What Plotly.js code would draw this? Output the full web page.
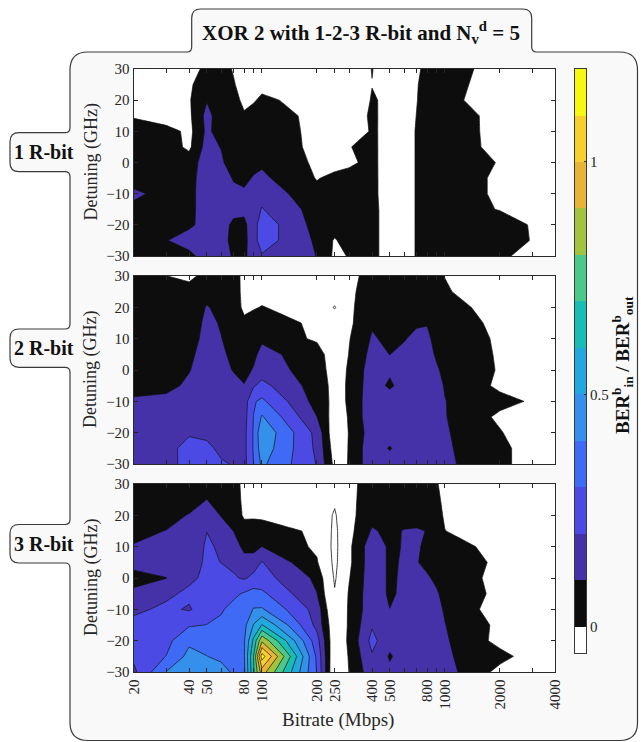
<!DOCTYPE html>
<html><head><meta charset="utf-8">
<script src="https://cdn.plot.ly/plotly-3.0.1.min.js"></script>
<style>html,body{margin:0;padding:0;background:#fff}#chart{width:641px;height:742px}</style>
</head><body><div id="chart"></div>
<script>
// ---------------- data ----------------
const bitrate = [20,30,40,50,60,70,80,90,100,200,250,300,400,500,600,700,800,900,1000,2000,3000,4000];
const bitrateLabels = ['20','','40','50','','','80','','100','200','250','','400','500','','','800','','1000','2000','','4000'];
const detuning = [-30,-25,-20,-15,-10,-5,0,5,10,15,20,25,30];
const detuningTicks = [-30,-20,-10,0,10,20,30];
const panelNames = ['1 R-bit','2 R-bit','3 R-bit'];
const levelStart = 0, levelEnd = 1.2, levelStep = 0.1;
const colorbarEdges = [-0.056,0,0.1,0.2,0.3,0.4,0.5,0.6,0.7,0.8,0.9,1.0,1.1,1.2];
const colorbarTicks = [0,0.5,1];

// BER_in/BER_out, one array per bitrate (values for detuning -30 ... +30 GHz)
const ratio1R = [
 [0.05,0.05,0.05,0.06,0.13,0.03,0.05,0.05,0.05,-0.01,-0.08,-0.08,-0.08],
 [0.05,0.095,0.05,0.05,0.05,0.05,0.05,0.05,0.05,-0.08,-0.08,-0.08,-0.08],
 [0.07,0.15,0.08,0.06,0.06,0.06,0.05,-0.02,-0.03,-0.02,-0.01,-0.02,-0.05],
 [0.15,0.17,0.14,0.17,0.17,0.16,0.15,0.14,0.12,0.13,0.095,0.07,0.03],
 [0.14,0.15,0.14,0.15,0.15,0.16,0.12,0.095,0.06,0.05,0.05,0.05,0.05],
 [0.09,0.06,0.08,0.13,0.13,0.09,0.03,0.05,0.05,0.04,0.03,0.01,-0.01],
 [0.08,0.07,0.08,0.12,0.12,0.07,0.05,0.05,0.04,0.01,-0.02,-0.05,-0.08],
 [0.15,0.16,0.15,0.16,0.14,0.11,0.06,0.05,0.05,0.04,-0.01,-0.05,-0.08],
 [0.19,0.25,0.26,0.205,0.17,0.12,0.085,0.05,0.05,0.05,0.02,-0.03,-0.08],
 [0.098,0.084,0.064,0.059,0.025,-0.005,-0.016,-0.018,-0.021,-0.026,-0.043,-0.08,-0.08],
 [-0.02,-0.01,0.05,0.05,0.05,0.02,-0.03,-0.08,-0.08,-0.08,-0.08,-0.08,-0.08],
 [0.005,0.05,0.05,0.05,0.05,0.04,-0.02,-0.005,-0.05,-0.05,-0.08,-0.08,-0.08],
 [0.05,0.05,0.05,0.05,0.04,0.04,0.03,0.04,0.008,0.013,0.007,-0.002,0.003],
 [-0.08,-0.08,-0.08,-0.08,-0.08,-0.08,-0.062,-0.083,-0.017,-0.027,-0.015,-0.05,-0.05],
 [-0.07,-0.07,-0.07,-0.07,-0.07,-0.07,-0.07,-0.07,-0.07,-0.07,-0.07,-0.07,-0.07],
 [0.01,0.01,0.01,0.01,0.01,0.01,0.01,0.01,0.01,0.002,-0.005,-0.01,-0.02],
 [0.05,0.05,0.05,0.05,0.05,0.05,0.05,0.05,0.05,0.05,0.05,0.05,0.03],
 [0.05,0.05,0.05,0.05,0.05,0.05,0.05,0.05,0.05,0.05,0.05,0.05,0.05],
 [0.05,0.05,0.05,0.05,0.05,0.05,0.05,0.05,0.05,0.05,0.05,0.05,0.05],
 [0.05,0.05,0.05,-0.005,-0.015,-0.015,-0.0045,-0.026,-0.029,-0.03,-0.095,-0.065,-0.045],
 [-0.095,-0.0046,-0.0083,-0.08,-0.08,-0.08,-0.08,-0.08,-0.08,-0.08,-0.08,-0.08,-0.08],
 [-0.08,-0.08,-0.08,-0.08,-0.08,-0.08,-0.08,-0.08,-0.08,-0.08,-0.08,-0.08,-0.08]
];
const ratio2R = [
 [0.17,0.17,0.15,0.14,0.12,0.05,0.05,0.05,0.05,0.05,0.05,0.05,0.05],
 [0.17,0.17,0.16,0.15,0.13,0.07,0.05,0.05,0.05,0.05,0.05,0.05,0.002],
 [0.23,0.23,0.19,0.16,0.15,0.12,0.095,0.08,0.06,0.05,0.05,0.05,-0.03],
 [0.24,0.22,0.18,0.17,0.16,0.15,0.15,0.14,0.13,0.12,0.105,0.07,0.04],
 [0.21,0.18,0.16,0.16,0.16,0.15,0.13,0.115,0.102,0.093,0.08,0.05,0.05],
 [0.195,0.17,0.16,0.16,0.15,0.13,0.095,0.08,0.07,0.05,0.05,0.05,0.05],
 [0.17,0.17,0.17,0.16,0.15,0.103,0.08,0.05,0.05,0.02,-0.02,-0.03,-0.033],
 [0.298,0.31,0.31,0.302,0.29,0.19,0.105,0.085,0.06,0.05,-0.01,-0.03,-0.05],
 [0.42,0.46,0.48,0.41,0.32,0.23,0.15,0.12,0.09,0.05,0.005,-0.04,-0.06],
 [0.195,0.18,0.17,0.101,0.062,0.052,0.053,0.064,-0.02,-0.02,-0.06,-0.06,-0.06],
 [-0.03,-0.052,-0.077,-0.05,-0.03,-0.03,-0.049,-0.09,-0.06,-0.06,-0.16,-0.06,-0.06],
 [0.004,0.005,0.005,0.007,0.0095,0.01,0.0115,0.004,-0.005,-0.02,-0.02,-0.03,-0.05],
 [0.17,0.17,0.15,0.17,0.17,0.16,0.15,0.13,0.11,0.09,0.067,0.07,0.064],
 [0.16,0.09,0.16,0.17,0.17,0.08,0.12,0.099,0.08,0.06,0.05,0.05,0.05],
 [0.16,0.16,0.16,0.16,0.16,0.15,0.14,0.12,0.095,0.07,0.05,0.05,0.05],
 [0.16,0.16,0.16,0.16,0.16,0.15,0.15,0.14,0.12,0.09,0.06,0.05,0.05],
 [0.15,0.15,0.15,0.15,0.15,0.15,0.14,0.13,0.12,0.095,0.05,0.05,0.05],
 [0.15,0.15,0.15,0.14,0.13,0.12,0.11,0.09,0.07,0.05,0.05,0.05,0.05],
 [0.116,0.111,0.11,0.105,0.102,0.096,0.082,0.06,0.05,0.05,0.05,0.012,-0.002],
 [0.04,0.04,0.008,-0.02,0.03,-0.02,-0.008,-0.0088,-0.011,-0.022,-0.054,-0.08,-0.08],
 [-0.07,-0.07,-0.072,-0.08,-0.0103,-0.08,-0.08,-0.08,-0.08,-0.08,-0.08,-0.08,-0.08],
 [-0.08,-0.08,-0.08,-0.08,-0.08,-0.08,-0.08,-0.08,-0.08,-0.08,-0.08,-0.08,-0.08]
];
const ratio3R = [
 [0.18,0.22,0.25,0.23,0.18,0.12,0.07,0.13,0.105,0.08,0.06,0.05,0.05],
 [0.402,0.302,0.27,0.25,0.22,0.18,0.098,0.15,0.14,0.102,0.07,0.05,0.05],
 [0.45,0.43,0.38,0.29,0.19,0.22,0.18,0.17,0.15,0.13,0.105,0.06,-0.003],
 [0.46,0.402,0.36,0.302,0.25,0.23,0.22,0.21,0.21,0.199,0.15,0.101,0.07],
 [0.45,0.37,0.35,0.32,0.29,0.25,0.22,0.199,0.19,0.14,0.095,0.07,0.05],
 [0.38,0.37,0.36,0.35,0.33,0.28,0.21,0.18,0.14,0.099,0.07,0.05,0.05],
 [0.38,0.39,0.39,0.37,0.34,0.31,0.19,0.13,0.08,0.05,-0.017,-0.0235,-0.033],
 [0.68,0.7,0.62,0.505,0.405,0.34,0.22,0.16,0.06,0.05,-0.015,-0.04,-0.06],
 [0.95,1.15,0.88,0.605,0.41,0.32,0.24,0.205,0.101,0.05,-0.02,-0.06,-0.08],
 [0.295,0.28,0.239,0.17,0.16,0.102,0.08,0.01,-0.019,-0.019,-0.06,-0.08,-0.08],
 [-0.11,-0.1,-0.086,-0.08,-0.12,-0.14,-0.165,-0.18,-0.185,-0.18,-0.165,-0.13,-0.06],
 [0.003,0.009,0.018,0.012,0.016,0.012,-0.005,-0.02,-0.02,-0.03,-0.03,-0.03,-0.05],
 [0.16,0.19,0.23,0.19,0.16,0.16,0.16,0.16,0.16,0.11,0.07,0.06,0.085],
 [0.12,0.09,0.13,0.13,0.101,0.085,0.085,0.085,0.085,0.08,0.06,0.05,0.05],
 [0.14,0.14,0.14,0.14,0.13,0.12,0.115,0.11,0.105,0.105,0.06,0.05,0.05],
 [0.15,0.15,0.15,0.15,0.14,0.13,0.12,0.105,0.11,0.11,0.06,0.05,0.05],
 [0.14,0.14,0.13,0.13,0.13,0.12,0.11,0.08,0.085,0.0975,0.06,0.05,0.05],
 [0.15,0.14,0.14,0.13,0.12,0.11,0.084,0.06,0.05,0.05,0.04,0.03,0.01],
 [0.14,0.113,0.112,0.1025,0.093,0.0755,0.05,0.05,0.05,0.002,-0.014,-0.032,-0.04],
 [-0.03,0.03,-0.03,-0.023,-0.055,-0.025,-0.024,-0.015,-0.039,-0.08,-0.08,-0.08,-0.08],
 [-0.08,-0.041,-0.08,-0.08,-0.08,-0.08,-0.08,-0.08,-0.08,-0.08,-0.08,-0.08,-0.08],
 [-0.08,-0.08,-0.08,-0.08,-0.08,-0.08,-0.08,-0.08,-0.08,-0.08,-0.08,-0.08,-0.08]
];

// ---------------- styles ----------------
const bandColors = ['#ffffff','#0d0d0d','#4532a9','#4c4ae5','#3f6af5','#3590ec','#22a8de','#19bdb6','#4cc988','#a1c33f','#e7b437','#f9cf30','#f8f711'];
const W = 641, H = 742;
const px = x => x / W;
const py = y => 1 - y / H;
const FONT = 'Liberation Serif';
const INK = '#262626';
const panelTop = [69, 276, 484], panelBottom = [256, 464, 672];
const xDomain = [px(134), px(555)];

// contour colorscale: fill of band above level j uses position (j+1)/nLev
const nLev = Math.round((levelEnd - levelStart) / levelStep) + 1; // 13
const contourScale = [];
for (let m = 0; m <= nLev; m++) contourScale.push([m / nLev, bandColors[Math.min(m, bandColors.length - 1)]]);

const traces = [];
const layout = {
  width: W, height: H,
  margin: {l:0, r:0, t:0, b:0, autoexpand:false},
  paper_bgcolor: '#ffffff', plot_bgcolor: 'rgba(0,0,0,0)',
  showlegend: false,
  font: {family: FONT, color: INK},
  annotations: [], shapes: []
};

[ratio1R, ratio2R, ratio3R].forEach((cols, i) => {
  const z = detuning.map((_, r) => cols.map(col => col[r]));
  const sfx = i === 0 ? '' : String(i + 1);
  const common = {type:'contour', x: bitrate, y: detuning, z: z, xaxis:'x'+sfx, yaxis:'y'+sfx,
                  autocontour:false, showscale:false, hoverinfo:'skip'};
  traces.push(Object.assign({}, common, {
    contours:{start:levelStart, end:levelEnd, size:levelStep, coloring:'fill', showlines:false},
    colorscale: contourScale, line:{width:0, smoothing:0}
  }));
  traces.push(Object.assign({}, common, {
    contours:{start:levelStart, end:levelEnd, size:levelStep, coloring:'none', showlines:true},
    line:{color:'#111111', width:0.7, smoothing:0}
  }));
  traces.push(Object.assign({}, common, {
    contours:{start:-0.15, end:-0.15, size:levelStep, coloring:'none', showlines:true},
    line:{color:'#111111', width:0.8, smoothing:0}
  }));

  layout['xaxis'+sfx] = {
    type:'log', range:[Math.log10(bitrate[0]), Math.log10(bitrate[bitrate.length-1])],
    domain: xDomain, anchor:'y'+sfx,
    tickmode:'array', tickvals: bitrate, ticktext: bitrateLabels,
    ticks:'inside', ticklen:4, tickwidth:1, tickcolor:INK,
    showline:true, linecolor:'#2a2a2a', linewidth:1.4, mirror:'ticks',
    showgrid:false, zeroline:false,
    showticklabels: i === 2, tickangle:-90,
    tickfont:{family:FONT, size:15, color:INK}
  };
  layout['yaxis'+sfx] = {
    range:[-30, 30], domain:[py(panelBottom[i]), py(panelTop[i])], anchor:'x'+sfx,
    tickmode:'array', tickvals: detuningTicks,
    ticks:'inside', ticklen:4, tickwidth:1, tickcolor:INK,
    showline:true, linecolor:'#2a2a2a', linewidth:1.4, mirror:'ticks',
    showgrid:false, zeroline:false,
    tickfont:{family:FONT, size:15, color:INK}
  };
  layout.annotations.push({
    xref:'paper', yref:'paper', x:px(91), y:py((panelTop[i]+panelBottom[i])/2),
    text:'Detuning (GHz)', textangle:-90, showarrow:false, xanchor:'center', yanchor:'middle',
    font:{family:FONT, size:18, color:INK}
  });
});

// colorbar drawn as a heatmap on its own axes
traces.push({
  type:'heatmap', x:[0,1], y: colorbarEdges,
  z: bandColors.map((_, k) => [k]), zmin:0, zmax:bandColors.length-1,
  colorscale: bandColors.map((c, k) => [k/(bandColors.length-1), c]),
  showscale:false, hoverinfo:'skip', xaxis:'x4', yaxis:'y4'
});
layout.xaxis4 = {domain:[px(575), px(586)], range:[0,1], anchor:'y4', showline:true, mirror:true,
  linecolor:'#3a3a3a', linewidth:1, showticklabels:false, ticks:'', showgrid:false, zeroline:false};
layout.yaxis4 = {domain:[py(653), py(69)], range:[colorbarEdges[0], colorbarEdges[colorbarEdges.length-1]],
  anchor:'x4', side:'right', showline:true, mirror:true, linecolor:'#3a3a3a', linewidth:1,
  tickmode:'array', tickvals: colorbarTicks, ticktext:['0','0.5','1'], ticks:'inside', ticklen:2, tickcolor:INK,
  showgrid:false, zeroline:false, tickfont:{family:FONT, size:15, color:INK}};

// text
layout.annotations.push({xref:'paper', yref:'paper', x:px(338), y:py(720), text:'Bitrate (Mbps)',
  showarrow:false, xanchor:'center', yanchor:'middle', font:{family:FONT, size:19, color:INK}});
layout.annotations.push({xref:'paper', yref:'paper', x:px(361), y:py(33),
  text:'<b>XOR 2 with 1-2-3 R-bit and N<sub>v</sub><sup>d</sup> = 5</b>',
  showarrow:false, xanchor:'center', yanchor:'middle', font:{family:FONT, size:21, color:'#111'}});
layout.annotations.push({xref:'paper', yref:'paper', x:px(622), y:py(365),
  text:'<b>BER<sup>b</sup><sub>in</sub> / BER<sup>b</sup><sub>out</sub></b>', textangle:-90,
  showarrow:false, xanchor:'center', yanchor:'middle', font:{family:FONT, size:19, color:'#111'}});

// frame with tabs
const L = 70, R = 637.5, T = 52, Bt = 740.5, rc = 18, r = 9, f = 5;
const tx0 = 191.7, tx1 = 531.7, ty0 = 9, sx0 = 10;
const sideTabs = [[132.7,171.7],[329,367.3],[524.5,563]];
const P = (x, y) => (x / W).toFixed(5) + ',' + (1 - y / H).toFixed(5);
let d = `M${P(L,T+rc)} Q${P(L,T)} ${P(L+rc,T)}`;
d += ` L${P(tx0-f,T)} Q${P(tx0,T)} ${P(tx0,T-f)} L${P(tx0,ty0+r)} Q${P(tx0,ty0)} ${P(tx0+r,ty0)}`;
d += ` L${P(tx1-r,ty0)} Q${P(tx1,ty0)} ${P(tx1,ty0+r)} L${P(tx1,T-f)} Q${P(tx1,T)} ${P(tx1+f,T)}`;
d += ` L${P(R-rc,T)} Q${P(R,T)} ${P(R,T+rc)} L${P(R,Bt-rc)} Q${P(R,Bt)} ${P(R-rc,Bt)}`;
d += ` L${P(L+rc,Bt)} Q${P(L,Bt)} ${P(L,Bt-rc)}`;
for (let k = sideTabs.length - 1; k >= 0; k--) {
  const [yt, yb] = sideTabs[k];
  d += ` L${P(L,yb+f)} Q${P(L,yb)} ${P(L-f,yb)} L${P(sx0+r,yb)} Q${P(sx0,yb)} ${P(sx0,yb-r)}`;
  d += ` L${P(sx0,yt+r)} Q${P(sx0,yt)} ${P(sx0+r,yt)} L${P(L-f,yt)} Q${P(L,yt)} ${P(L,yt-f)}`;
}
d += ' Z';
layout.shapes.push({type:'path', xref:'paper', yref:'paper', path:d, fillcolor:'#f9f9f9',
  line:{color:'#3a3a3a', width:1.2}, layer:'below'});
sideTabs.forEach(([yt, yb], k) => {
  layout.annotations.push({xref:'paper', yref:'paper', x:px(43.5), y:py((yt+yb)/2), text:'<b>'+panelNames[k]+'</b>',
    showarrow:false, xanchor:'center', yanchor:'middle', font:{family:FONT, size:20, color:'#111'}});
});

Plotly.newPlot('chart', traces, layout, {staticPlot:true, displayModeBar:false});
</script>
</body></html>
